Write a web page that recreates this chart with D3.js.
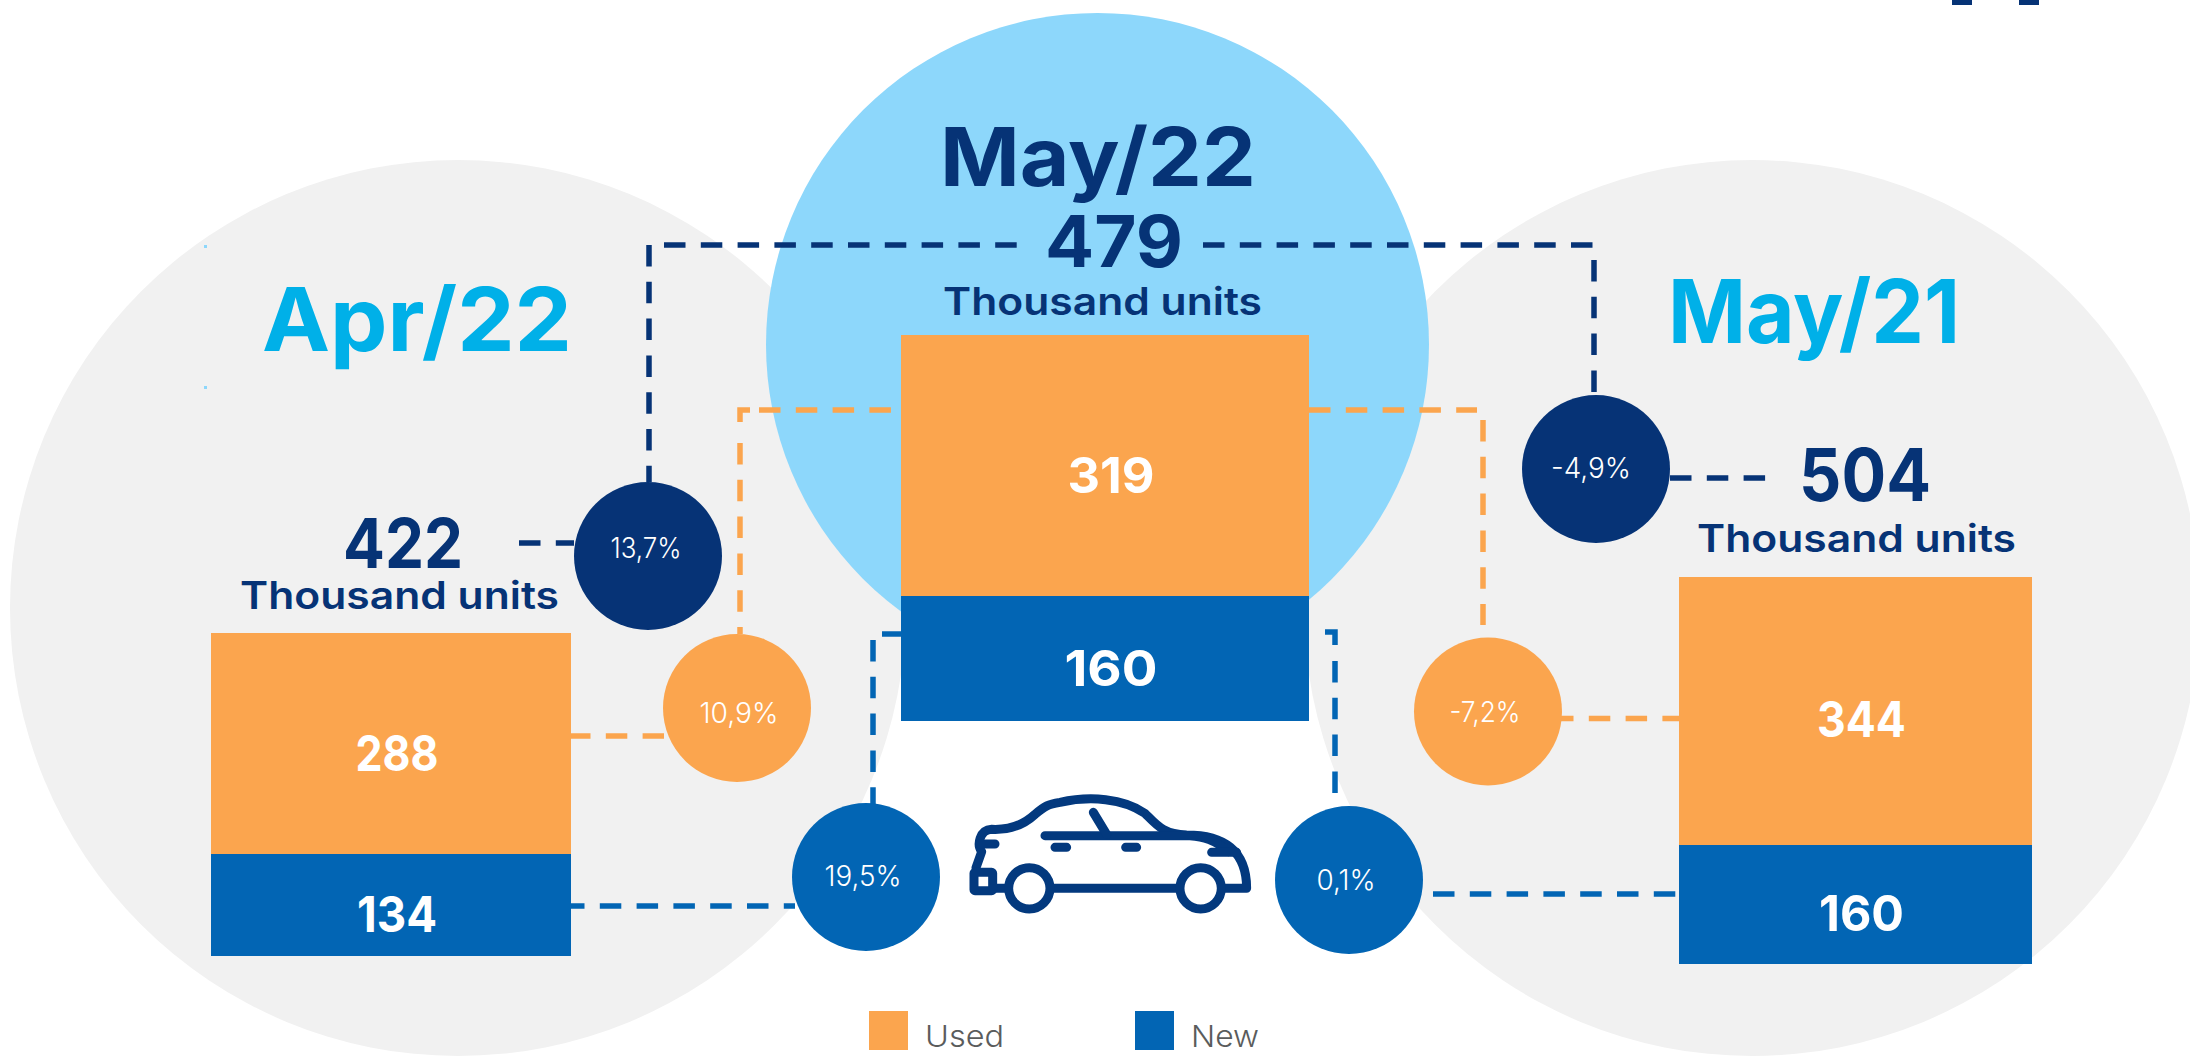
<!DOCTYPE html>
<html>
<head>
<meta charset="utf-8">
<script src="https://cdn.jsdelivr.net/npm/d3@7"></script>
<style>
    html, body { margin: 0; padding: 0; background: #fff; overflow: hidden; }
    text { font-family: Inter, "Noto Sans", sans-serif; }
</style>
</head>
<body>
<svg id="chart" width="2190" height="1056"></svg>
<script>
// values
const months = ["Apr/22", "May/22", "May/21"];
const usedValues = [288, 319, 344];
const newValues = [134, 160, 160];
const totals = [422, 479, 504];
const unitLabel = "Thousand units";
const seriesNames = ["Used", "New"];

// change of May/22 against Apr/22 and May/21
const totalChanges = [13.7, -4.9];
const usedChanges = [10.9, -7.2];
const newChanges = [19.5, 0.1];

const navy = "#063376", blue = "#0265B4", orange = "#FBA54E";
const cyan = "#00B0E8", sky = "#8DD7FB", grey = "#F1F1F1";

// each column has its own box in the infographic
const columns = [
    { x0: 211, x1: 571, top: 633, split: 854, bottom: 956, labelDy: 27 },
    { x0: 901, x1: 1309, top: 335, split: 596, bottom: 721, labelDy: 27 },
    { x0: 1679, x1: 2032, top: 577, split: 845, bottom: 964, labelDy: 26 }
];

const svg = d3.select("#chart");
const pctLocale = d3.formatLocale({ decimal: ",", thousands: ".", grouping: [3], currency: ["", ""], minus: "-", percent: "%" });
const pct = v => pctLocale.format(".1f")(v) + "%";

function label(x, y, str, size, weight, color, len, anchor) {
    const t = svg.append("text")
        .attr("x", x).attr("y", y)
        .attr("text-anchor", anchor || "start")
        .style("font-size", size + "px")
        .style("font-weight", weight)
        .attr("fill", color)
        .text(str);
    if (len) t.attr("textLength", len).attr("lengthAdjust", "spacingAndGlyphs");
    return t;
}

function dash(x1, y1, x2, y2, color) {
    svg.append("line")
        .attr("x1", x1).attr("y1", y1).attr("x2", x2).attr("y2", y2)
        .attr("stroke", color)
        .attr("stroke-width", 5.5)
        .attr("stroke-dasharray", "21.5 15.3");
}

// background circles
svg.append("g").selectAll("circle")
    .data([[458, 608, 448, grey], [1752, 608, 448, grey], [1097.5, 344.5, 331.5, sky]])
    .enter().append("circle")
    .attr("cx", d => d[0]).attr("cy", d => d[1]).attr("r", d => d[2])
    .attr("fill", d => d[3]);

// stray marks of the source picture
svg.append("g").selectAll("rect")
    .data([[1952, 0, 20, 5, navy], [2019, 0, 20, 5, navy], [204, 245, 3, 3, sky], [204, 386, 3, 3, sky]])
    .enter().append("rect")
    .attr("x", d => d[0]).attr("y", d => d[1]).attr("width", d => d[2]).attr("height", d => d[3])
    .attr("fill", d => d[4]);

// dashed connectors
dash(664, 245, 1018, 245, navy);
dash(1203, 245, 1593, 245, navy);
dash(649, 245, 649, 482, navy);
dash(1594, 260, 1594, 392, navy);
dash(519, 543, 574, 543, navy);
dash(1670, 478, 1766, 478, navy);

dash(759, 410, 901, 410, orange);
dash(1309, 410, 1477, 410, orange);
dash(740, 443, 740, 634, orange);
dash(1483, 420, 1483, 625, orange);
dash(569, 736, 664, 736, orange);
dash(1552, 718.5, 1679, 718.5, orange);
svg.append("path").attr("d", "M750,410H740V422")
    .attr("fill", "none").attr("stroke", orange).attr("stroke-width", 5.5);

dash(873, 640, 873, 805, blue);
dash(1335, 661, 1335, 794, blue);
dash(563, 906, 795, 906, blue);
dash(1433, 894, 1676, 894, blue);
dash(882, 634, 901, 634, blue);
svg.append("path").attr("d", "M1325,632H1335V645")
    .attr("fill", "none").attr("stroke", blue).attr("stroke-width", 5.5);

// stacked bars, one y scale per column
const usedLabelWidths = [83, 87, 89];
const newLabelWidths = [80, 93, 85];
months.forEach((m, i) => {
    const c = columns[i];
    const y = d3.scaleLinear()
        .domain([0, newValues[i], totals[i]])
        .range([c.bottom, c.split, c.top]);
    const x = d3.scaleLinear().domain([0, 1]).range([c.x0, c.x1]);
    const segments = [
        { from: newValues[i], to: totals[i], value: usedValues[i], color: orange, w: usedLabelWidths[i] },
        { from: 0, to: newValues[i], value: newValues[i], color: blue, w: newLabelWidths[i] }
    ];
    svg.append("g").selectAll("rect")
        .data(segments)
        .enter().append("rect")
        .attr("x", x(0))
        .attr("width", x(1) - x(0))
        .attr("y", d => y(d.to))
        .attr("height", d => y(d.from) - y(d.to))
        .attr("fill", d => d.color);
    segments.forEach(d => {
        label(x(0.5) + 6, y((d.from + d.to) / 2) + c.labelDy, d.value, 50, 700, "#fff", d.w, "middle");
    });
});

// change bubbles
const bubbles = [
    { v: totalChanges[0], cx: 648, cy: 556, color: navy, tx: 646, ty: 558, w: 71 },
    { v: usedChanges[0], cx: 737, cy: 708, color: orange, tx: 739, ty: 723, w: 79 },
    { v: newChanges[0], cx: 866, cy: 877, color: blue, tx: 863, ty: 886, w: 77 },
    { v: newChanges[1], cx: 1349, cy: 880, color: blue, tx: 1346, ty: 890, w: 59 },
    { v: totalChanges[1], cx: 1596, cy: 469, color: navy, tx: 1591, ty: 478, w: 80 },
    { v: usedChanges[1], cx: 1488, cy: 711.5, color: orange, tx: 1485, ty: 722, w: 71 }
];
svg.append("g").selectAll("circle")
    .data(bubbles)
    .enter().append("circle")
    .attr("cx", d => d.cx).attr("cy", d => d.cy).attr("r", 74)
    .attr("fill", d => d.color);
bubbles.forEach(d => label(d.tx, d.ty, pct(d.v), 28, 300, "#fff", d.w, "middle"));

// headers
label(262, 351, months[0], 88, 700, cyan, 310);
label(940, 186, months[1], 81, 700, navy, 316);
label(1668, 343, months[2], 88, 700, cyan, 292);

label(343, 568, totals[0], 69, 700, navy, 120);
label(1045, 267, totals[1], 71, 700, navy, 138);
label(1799, 501, totals[2], 73, 700, navy, 132);

label(240, 609, unitLabel, 38, 600, navy, 319);
label(943, 315, unitLabel, 38, 600, navy, 319);
label(1697, 552, unitLabel, 38, 600, navy, 319);

// car icon
const car = svg.append("g")
    .attr("transform", "translate(960,785) scale(0.3333)")
    .attr("fill", "none")
    .attr("stroke", "#03397E")
    .attr("stroke-width", 27)
    .attr("stroke-linecap", "round")
    .attr("stroke-linejoin", "round");
car.append("path").attr("d", "M48,248 L65,200 C50,180 58,135 95,133 C135,135 185,125 225,88 C255,62 265,58 300,52 C390,32 490,40 555,85 C590,120 610,148 680,150 C790,150 860,195 860,310 H795");
car.append("path").attr("d", "M255,152 H690 C730,155 765,165 805,200");
car.append("path").attr("d", "M400,82 L440,148");
car.append("path").attr("d", "M60,177 H105 M285,187 H320 M497,187 H530 M755,202 H830");
car.append("path").attr("d", "M100,310 H140 M275,310 H655");
car.append("rect").attr("x", 42).attr("y", 262).attr("width", 56).attr("height", 55).attr("rx", 3);
car.selectAll("circle")
    .data([208, 722])
    .enter().append("circle")
    .attr("cx", d => d).attr("cy", 310).attr("r", 62).attr("fill", "#fff");

// legend
const legendX = [869, 1135];
const legendColors = [orange, blue];
seriesNames.forEach((s, i) => {
    svg.append("rect")
        .attr("x", legendX[i]).attr("y", 1011)
        .attr("width", 39).attr("height", 39)
        .attr("fill", legendColors[i]);
    label(legendX[i] + 56, 1047, s, 30, 300, "#5a5c5c", i === 0 ? 79 : 68);
});
</script>
</body>
</html>
